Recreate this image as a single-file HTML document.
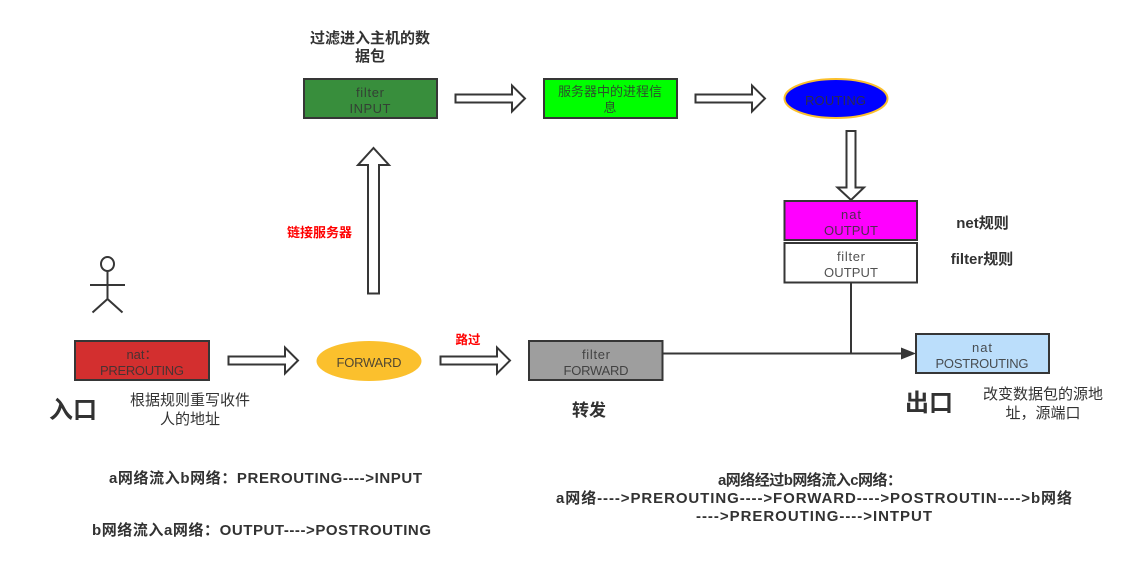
<!DOCTYPE html>
<html lang="zh">
<head>
<meta charset="utf-8">
<style>
html,body{margin:0;padding:0;background:#fff}
svg{display:block}
text{font-family:"Liberation Sans","Noto Sans CJK SC",sans-serif;text-anchor:middle;fill:#333}
.n{font-size:13px;opacity:.85}
.b{font-size:15px;font-weight:bold;fill:#323232}
.s{font-size:15px;font-weight:bold;fill:#323232}
.c{font-size:15px;fill:#333}
.box{stroke:#363636;stroke-width:2}
.ar{fill:#fff;stroke:#363636;stroke-width:2}
</style>
</head>
<body>
<svg width="1128" height="573" viewBox="0 0 1128 573" xmlns="http://www.w3.org/2000/svg">
<rect width="1128" height="573" fill="#fff"/>

<text class="b" x="370" y="43">过滤进入主机的数</text>
<text class="b" x="370" y="61">据包</text>

<rect class="box" x="304" y="79" width="133" height="39" fill="#388e3c"/>
<text class="n" x="370" y="97" textLength="28">filter</text>
<text class="n" x="370" y="113" textLength="41">INPUT</text>

<path class="ar" d="M455.500 94.500H512V85.500L525 98.500L512 111.500V102.500H455.500Z"/>

<rect class="box" x="544" y="79" width="133" height="39" fill="#00ff00"/>
<text class="n" x="610" y="96">服务器中的进程信</text>
<text class="n" x="610" y="112">息</text>

<path class="ar" d="M695.500 94.500H752V85.500L765 98.500L752 111.500V102.500H695.500Z"/>

<ellipse cx="836" cy="98.500" rx="51.500" ry="19.500" fill="#0000ff" stroke="#fbc02d" stroke-width="2"/>
<text class="n" x="835.500" y="105" textLength="61">ROUTING</text>

<path class="ar" d="M846.500 131H855.500V187.500H864L851 200L837.500 187.500H846.500Z"/>

<rect class="box" x="784.500" y="201" width="132.500" height="39" fill="#ff00ff"/>
<text class="n" x="851" y="219" textLength="20">nat</text>
<text class="n" x="851" y="235" textLength="54">OUTPUT</text>

<rect class="box" x="784.500" y="243" width="132.500" height="39.500" fill="#fff"/>
<text class="n" x="851" y="261" textLength="28">filter</text>
<text class="n" x="851" y="277" textLength="54">OUTPUT</text>

<text class="b" x="982.500" y="228">net规则</text>
<text class="b" x="982" y="264">filter规则</text>

<path d="M851 283V353" stroke="#363636" stroke-width="2" fill="none"/>
<path d="M663 353.500H903" stroke="#363636" stroke-width="2" fill="none"/>
<path d="M901 347.500L916 353.500L901 359.500Z" fill="#363636"/>

<rect class="box" x="916" y="334" width="133" height="39" fill="#bbdefb"/>
<text class="n" x="982" y="352" textLength="20">nat</text>
<text class="n" x="982" y="368" textLength="93">POSTROUTING</text>

<text style="font-size:24px;font-weight:bold;fill:#323232" x="929" y="411">出口</text>
<text class="c" x="1043" y="399">改变数据包的源地</text>
<text class="c" x="1043" y="418">址，源端口</text>

<ellipse cx="107.500" cy="264" rx="6.500" ry="7" fill="#fff" stroke="#363636" stroke-width="2"/>
<path d="M107.500 271V299M90 285H125M92.500 312.500L107.500 299L122.500 312.500" fill="none" stroke="#363636" stroke-width="2"/>

<rect class="box" x="75" y="341" width="134" height="39" fill="#d32f2f"/>
<text class="n" x="142" y="359">nat：</text>
<text class="n" x="142" y="375" textLength="84">PREROUTING</text>

<path class="ar" d="M228.500 356.500H285V347.500L298 360.500L285 373.500V364.500H228.500Z"/>

<ellipse cx="369" cy="361" rx="52.500" ry="20" fill="#fbc02d"/>
<text class="n" x="369" y="367" textLength="65">FORWARD</text>

<path class="ar" d="M440.500 356.500H497V347.500L510 360.500L497 373.500V364.500H440.500Z"/>

<text style="font-size:12.500px;font-weight:bold;fill:#ff0000" x="468" y="344">路过</text>

<rect class="box" x="529" y="341" width="133.500" height="39" fill="#9e9e9e"/>
<text class="n" x="596" y="359" textLength="28">filter</text>
<text class="n" x="596" y="375" textLength="65">FORWARD</text>

<text style="font-size:17px;font-weight:bold;fill:#323232" x="589" y="416">转发</text>

<path class="ar" d="M368 293.500V165H358L373.500 148L389 165H379V293.500Z"/>
<text style="font-size:13px;font-weight:bold;fill:#ff0000" x="319.500" y="237">链接服务器</text>

<text style="font-size:24px;font-weight:bold;fill:#323232" x="73" y="418">入口</text>
<text class="c" x="190" y="405">根据规则重写收件</text>
<text class="c" x="190" y="424">人的地址</text>

<text class="s" x="265.500" y="483" textLength="313">a网络流入b网络：PREROUTING----&gt;INPUT</text>
<text class="s" x="261.500" y="535" textLength="339">b网络流入a网络：OUTPUT----&gt;POSTROUTING</text>

<text class="s" x="810" y="485" textLength="184">a网络经过b网络流入c网络：</text>
<text class="s" x="814" y="503" textLength="516">a网络----&gt;PREROUTING----&gt;FORWARD----&gt;POSTROUTIN----&gt;b网络</text>
<text class="s" x="814" y="521" textLength="236">----&gt;PREROUTING----&gt;INTPUT</text>
</svg>
</body>
</html>
